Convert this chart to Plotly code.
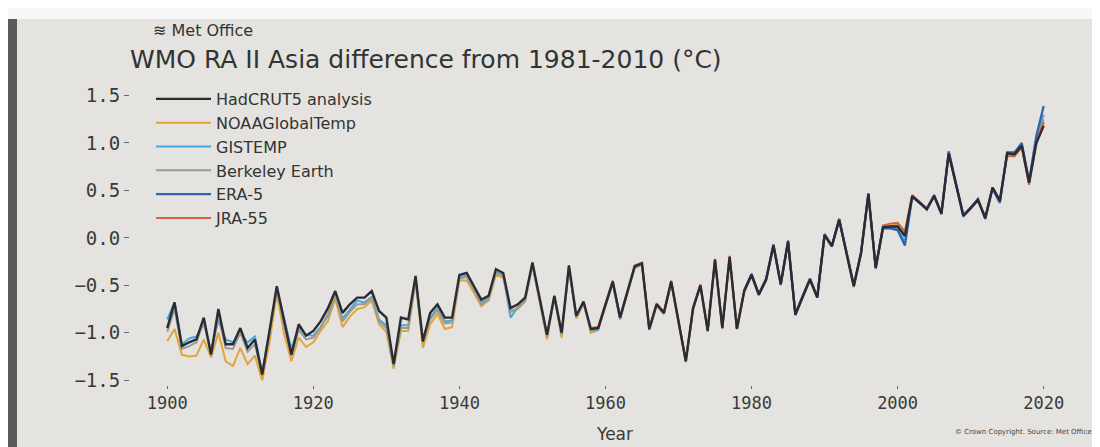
import plotly.graph_objects as go

# ---------------- data ----------------
start_all = 1900
hadcrut5 = [
    -0.95, -0.68, -1.14, -1.10, -1.07, -0.84, -1.23, -0.75, -1.12, -1.12,
    -0.95, -1.16, -1.07, -1.44, -0.98, -0.51, -0.87, -1.23, -0.91, -1.03,
    -0.98, -0.88, -0.74, -0.56, -0.79, -0.70, -0.63, -0.63, -0.56, -0.77,
    -0.84, -1.33, -0.84, -0.86, -0.40, -1.09, -0.79, -0.70, -0.84, -0.84,
    -0.39, -0.37, -0.51, -0.65, -0.61, -0.33, -0.37, -0.74, -0.70, -0.63,
    -0.26, -0.64, -1.02, -0.61, -1.00, -0.29, -0.82, -0.67, -0.96, -0.95,
    -0.70, -0.46, -0.84, -0.57, -0.30, -0.27, -0.96, -0.70, -0.79, -0.46,
    -0.88, -1.30, -0.74, -0.50, -0.98, -0.23, -0.95, -0.20, -0.96, -0.56,
    -0.39, -0.60, -0.44, -0.08, -0.49, -0.04, -0.81, -0.62, -0.44, -0.63,
    0.03, -0.09, 0.19, -0.16, -0.51, -0.16, 0.46, -0.32, 0.11, 0.12,
    0.12, 0.02, 0.44, 0.37, 0.30, 0.44, 0.25, 0.89, 0.56, 0.23,
    0.31, 0.40, 0.21, 0.53, 0.39, 0.89, 0.88, 0.97, 0.58, 1.00, 1.18,
]
noaa = [
    -1.09, -0.96, -1.23, -1.25, -1.24, -1.07, -1.26, -1.00, -1.30, -1.35,
    -1.16, -1.33, -1.24, -1.50, -1.10, -0.59, -1.01, -1.30, -1.05, -1.15,
    -1.10, -0.98, -0.88, -0.64, -0.94, -0.83, -0.75, -0.73, -0.66, -0.91,
    -0.99, -1.38, -0.98, -0.98, -0.46, -1.16, -0.91, -0.80, -0.96, -0.94,
    -0.45, -0.45, -0.58, -0.72, -0.66, -0.39, -0.42, -0.77, -0.75, -0.67,
    -0.29, -0.68, -1.07, -0.63, -1.05, -0.32, -0.85, -0.69, -1.00, -0.97,
    -0.72, -0.47, -0.85, -0.58, -0.31, -0.27, -0.97, -0.71, -0.80, -0.47,
    -0.89, -1.31, -0.75, -0.50, -0.99, -0.24, -0.96, -0.21, -0.96, -0.57,
    -0.40, -0.60, -0.45, -0.09, -0.49, -0.05, -0.82, -0.62, -0.45, -0.63,
    0.02, -0.09, 0.18, -0.16, -0.52, -0.16, 0.45, -0.32, 0.12, 0.13,
    0.14, 0.05, 0.45, 0.37, 0.31, 0.45, 0.26, 0.88, 0.55, 0.24,
    0.31, 0.40, 0.22, 0.53, 0.40, 0.88, 0.86, 0.95, 0.57, 1.02, 1.20,
]
gistemp = [
    -0.86, -0.68, -1.12, -1.06, -1.04, -0.91, -1.18, -0.87, -1.07, -1.10,
    -1.01, -1.10, -1.04, -1.42, -0.98, -0.53, -0.85, -1.17, -0.94, -1.02,
    -1.03, -0.94, -0.82, -0.59, -0.85, -0.75, -0.66, -0.68, -0.62, -0.86,
    -0.92, -1.31, -0.92, -0.92, -0.43, -1.06, -0.84, -0.74, -0.88, -0.87,
    -0.41, -0.40, -0.53, -0.68, -0.63, -0.36, -0.39, -0.84, -0.73, -0.65,
    -0.28, -0.65, -1.03, -0.62, -1.01, -0.31, -0.83, -0.68, -0.98, -0.97,
    -0.71, -0.48, -0.86, -0.58, -0.32, -0.28, -0.97, -0.71, -0.80, -0.47,
    -0.89, -1.29, -0.75, -0.51, -0.97, -0.24, -0.94, -0.21, -0.95, -0.56,
    -0.39, -0.59, -0.45, -0.08, -0.50, -0.05, -0.80, -0.62, -0.43, -0.62,
    0.04, -0.08, 0.18, -0.15, -0.50, -0.15, 0.46, -0.31, 0.10, 0.11,
    0.10, -0.04, 0.43, 0.38, 0.30, 0.45, 0.26, 0.91, 0.56, 0.22,
    0.32, 0.39, 0.20, 0.52, 0.37, 0.90, 0.89, 0.99, 0.59, 1.06, 1.30,
]
berkeley = [
    -0.99, -0.75, -1.17, -1.14, -1.10, -0.88, -1.24, -0.82, -1.16, -1.17,
    -1.00, -1.20, -1.12, -1.45, -1.00, -0.54, -0.92, -1.24, -0.97, -1.07,
    -1.05, -0.95, -0.80, -0.60, -0.88, -0.78, -0.70, -0.70, -0.63, -0.88,
    -0.95, -1.35, -0.95, -0.95, -0.44, -1.10, -0.86, -0.76, -0.90, -0.89,
    -0.43, -0.41, -0.55, -0.70, -0.65, -0.37, -0.40, -0.78, -0.74, -0.66,
    -0.29, -0.66, -1.04, -0.63, -1.02, -0.31, -0.84, -0.69, -0.97, -0.96,
    -0.71, -0.47, -0.85, -0.58, -0.31, -0.28, -0.96, -0.71, -0.80, -0.47,
    -0.88, -1.30, -0.75, -0.51, -0.98, -0.24, -0.95, -0.21, -0.96, -0.56,
    -0.40, -0.60, -0.44, -0.09, -0.49, -0.04, -0.81, -0.62, -0.44, -0.63,
    0.03, -0.09, 0.19, -0.16, -0.51, -0.16, 0.46, -0.32, 0.11, 0.12,
    0.13, 0.03, 0.44, 0.38, 0.30, 0.44, 0.26, 0.89, 0.56, 0.23,
    0.31, 0.40, 0.21, 0.53, 0.39, 0.89, 0.88, 0.97, 0.58, 1.03, 1.25,
]
start_era5 = 1979
era5 = [
    -0.55,
    -0.38, -0.59, -0.43, -0.07, -0.48, -0.03, -0.80, -0.61, -0.43, -0.62,
    0.04, -0.08, 0.20, -0.15, -0.50, -0.15, 0.47, -0.31, 0.10, 0.10,
    0.08, -0.08, 0.43, 0.37, 0.31, 0.45, 0.26, 0.91, 0.57, 0.24,
    0.32, 0.41, 0.20, 0.52, 0.37, 0.90, 0.90, 1.00, 0.60, 1.08, 1.39,
]
start_jra55 = 1958
jra55 = [
    -0.95, -0.94,
    -0.69, -0.45, -0.83, -0.56, -0.29, -0.26, -0.95, -0.69, -0.78, -0.45,
    -0.87, -1.29, -0.73, -0.49, -0.97, -0.22, -0.94, -0.19, -0.95, -0.55,
    -0.38, -0.59, -0.43, -0.07, -0.48, -0.03, -0.80, -0.61, -0.43, -0.62,
    0.04, -0.08, 0.20, -0.15, -0.50, -0.15, 0.47, -0.31, 0.13, 0.15,
    0.16, 0.07, 0.45, 0.38, 0.31, 0.45, 0.27, 0.88, 0.55, 0.24,
    0.32, 0.40, 0.22, 0.53, 0.40, 0.86, 0.86, 0.96, 0.56, 1.02, 1.22,
]

y_ticks = [-1.5, -1.0, -0.5, 0.0, 0.5, 1.0, 1.5]
y_tick_text = ["\u22121.5", "\u22121.0", "\u22120.5", "0.0", "0.5", "1.0", "1.5"]
x_ticks = [1900, 1920, 1940, 1960, 1980, 2000, 2020]

title_text = "WMO RA II Asia difference from 1981-2010 (\u00b0C)"


def years_from(start, values):
    return list(range(start, start + len(values)))


# ---------------- figure ----------------
series = [
    # name, start, values, color, width, legend rank
    ("NOAAGlobalTemp", start_all, noaa, "#E3A43A", 2.0, 2),
    ("GISTEMP", start_all, gistemp, "#45A8DE", 2.0, 3),
    ("Berkeley Earth", start_all, berkeley, "#9A9A96", 2.0, 4),
    ("JRA-55", start_jra55, jra55, "#D2643E", 2.0, 6),
    ("ERA-5", start_era5, era5, "#2F63B0", 2.2, 5),
    ("HadCRUT5 analysis", start_all, hadcrut5, "#2B2B33", 2.4, 1),
]

fig = go.Figure()
for name, st, vals, col, w, rank in series:
    fig.add_trace(go.Scatter(
        x=years_from(st, vals), y=vals, mode="lines", name=name,
        line=dict(color=col, width=w), legendrank=rank,
    ))

L, R, T, B = 122, 30, 78, 70
plot_w = 1100 - L - R
plot_h = 447 - T - B


def px_x(px):
    return (px - L) / plot_w


def px_y(py):
    return 1 - (py - T) / plot_h


bg = "#E4E3DF"
fig.update_layout(
    width=1100, height=447,
    margin=dict(l=L, r=R, t=T, b=B),
    paper_bgcolor=bg, plot_bgcolor=bg,
    showlegend=True,
    legend=dict(
        x=px_x(143), y=px_y(74), xanchor="left", yanchor="top",
        bgcolor="rgba(0,0,0,0)", traceorder="normal",
        font=dict(family="DejaVu Sans", size=16, color="#333333"),
        itemwidth=55, tracegroupgap=0,
    ),
    xaxis=dict(
        range=[1894.9, 2024.7], tickmode="array", tickvals=x_ticks,
        showgrid=False, zeroline=False, showline=False,
        ticks="outside", ticklen=3, tickcolor="#666666",
        tickfont=dict(family="DejaVu Sans Mono", size=17, color="#3a3a3a"),
    ),
    yaxis=dict(
        range=[-1.55, 1.6], tickmode="array", tickvals=y_ticks, ticktext=y_tick_text,
        showgrid=False, zeroline=False, showline=False,
        ticks="outside", ticklen=5, tickcolor="#666666",
        tickfont=dict(family="DejaVu Sans Mono", size=19, color="#3a3a3a"),
    ),
    annotations=[
        dict(text="\u224b Met Office", xref="paper", yref="paper",
             x=px_x(143), y=px_y(22), xanchor="left", yanchor="middle",
             showarrow=False, font=dict(family="DejaVu Sans", size=16, color="#333333")),
        dict(text=title_text, xref="paper", yref="paper",
             x=px_x(120), y=px_y(51), xanchor="left", yanchor="middle",
             showarrow=False, font=dict(family="DejaVu Sans", size=25, color="#333333")),
        dict(text="Year", xref="paper", yref="paper",
             x=px_x(606), y=px_y(426), xanchor="center", yanchor="middle",
             showarrow=False, font=dict(family="DejaVu Sans", size=17, color="#3a3a3a")),
        dict(text="\u00a9 Crown Copyright. Source: Met Office", xref="paper", yref="paper",
             x=px_x(1086), y=px_y(424), xanchor="right", yanchor="middle",
             showarrow=False, font=dict(family="DejaVu Sans", size=7, color="#444444")),
    ],
    shapes=[
        dict(type="rect", xref="paper", yref="paper", layer="above",
             x0=px_x(0), x1=px_x(9), y0=px_y(447), y1=px_y(0),
             fillcolor="#5a5a5a", line=dict(width=0)),
        dict(type="rect", xref="paper", yref="paper", layer="above",
             x0=px_x(0), x1=px_x(1100), y0=px_y(11), y1=px_y(0),
             fillcolor="#F7F7F7", line=dict(width=0)),
    ],
)

fig.write_html("out.html")
